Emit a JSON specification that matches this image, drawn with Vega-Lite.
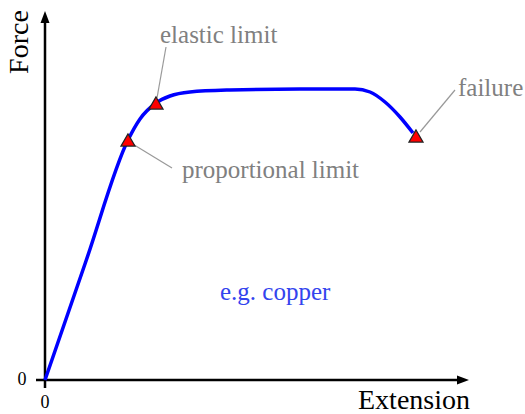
{
  "$schema": "https://vega.github.io/schema/vega-lite/v6.json",
  "width": 480,
  "height": 372,
  "autosize": "none",
  "padding": {"left": 45, "top": 8, "right": 0, "bottom": 34},
  "background": "white",
  "config": {"view": {"stroke": null}},
  "datasets": {
    "curve": [
      {"x": 0, "y": 0}, {"x": 41, "y": 119}, {"x": 83, "y": 240}, {"x": 95, "y": 261},
      {"x": 111, "y": 277}, {"x": 125, "y": 284}, {"x": 145, "y": 288}, {"x": 185, "y": 290},
      {"x": 255, "y": 291}, {"x": 310, "y": 291}, {"x": 325, "y": 288}, {"x": 340, "y": 278},
      {"x": 355, "y": 263}, {"x": 368, "y": 247}
    ],
    "axes": [
      {"x": -9, "y": 0, "x2": 418, "y2": 0},
      {"x": 0, "y": -8, "x2": 0, "y2": 363}
    ],
    "leaders": [
      {"x": 112, "y": 282, "x2": 121, "y2": 333},
      {"x": 86, "y": 237, "x2": 127, "y2": 212},
      {"x": 375, "y": 248, "x2": 410, "y2": 290}
    ],
    "markers": [
      {"x": 83, "y": 240, "name": "proportional limit"},
      {"x": 111, "y": 277, "name": "elastic limit"},
      {"x": 371, "y": 244, "name": "failure"}
    ],
    "labels": [
      {"x": 115, "y": 345, "text": "elastic limit"},
      {"x": 137, "y": 210, "text": "proportional limit"},
      {"x": 413, "y": 292, "text": "failure"}
    ]
  },
  "encoding": {
    "x": {"field": "x", "type": "quantitative", "scale": {"domain": [0, 480], "nice": false, "zero": false}, "axis": null},
    "y": {"field": "y", "type": "quantitative", "scale": {"domain": [0, 372], "nice": false, "zero": false}, "axis": null}
  },
  "layer": [
    {
      "data": {"name": "axes"},
      "mark": {"type": "rule", "color": "black", "strokeWidth": 2.5},
      "encoding": {"x2": {"field": "x2"}, "y2": {"field": "y2"}}
    },
    {
      "data": {"values": [{"x": 418, "y": 0}]},
      "mark": {"type": "point", "shape": "M-1,-0.75L1,0L-1,0.75Z", "size": 144, "filled": true, "color": "black", "opacity": 1}
    },
    {
      "data": {"values": [{"x": 0, "y": 363}]},
      "mark": {"type": "point", "shape": "M-0.75,1L0,-1L0.75,1Z", "size": 144, "filled": true, "color": "black", "opacity": 1}
    },
    {
      "data": {"name": "leaders"},
      "mark": {"type": "rule", "color": "#999999", "strokeWidth": 1.2},
      "encoding": {"x2": {"field": "x2"}, "y2": {"field": "y2"}}
    },
    {
      "data": {"name": "curve"},
      "mark": {"type": "line", "color": "#0000ff", "strokeWidth": 3.5, "interpolate": "monotone"}
    },
    {
      "data": {"name": "markers"},
      "mark": {"type": "point", "shape": "triangle-up", "size": 200, "filled": true, "fill": "#ff0000", "stroke": "#222222", "strokeWidth": 1.2, "opacity": 1}
    },
    {
      "data": {"name": "labels"},
      "mark": {"type": "text", "align": "left", "baseline": "middle", "font": "Liberation Serif", "fontSize": 25, "color": "#808080"},
      "encoding": {"text": {"field": "text"}}
    },
    {
      "data": {"values": [{"x": 175, "y": 88, "text": "e.g. copper"}]},
      "mark": {"type": "text", "align": "left", "baseline": "middle", "font": "Liberation Serif", "fontSize": 25, "color": "#3344ee"},
      "encoding": {"text": {"field": "text"}}
    },
    {
      "data": {"values": [{"x": 425, "y": -21, "text": "Extension"}]},
      "mark": {"type": "text", "align": "right", "baseline": "middle", "font": "Liberation Serif", "fontSize": 28, "color": "black"},
      "encoding": {"text": {"field": "text"}}
    },
    {
      "data": {"values": [{"x": -25, "y": 338, "text": "Force"}]},
      "mark": {"type": "text", "align": "center", "baseline": "middle", "angle": 270, "font": "Liberation Serif", "fontSize": 28, "color": "black"},
      "encoding": {"text": {"field": "text"}}
    },
    {
      "data": {"values": [{"x": -23, "y": 0, "text": "0"}, {"x": 0, "y": -23, "text": "0"}]},
      "mark": {"type": "text", "align": "center", "baseline": "middle", "font": "Liberation Serif", "fontSize": 18, "color": "black"},
      "encoding": {"text": {"field": "text"}}
    }
  ]
}
